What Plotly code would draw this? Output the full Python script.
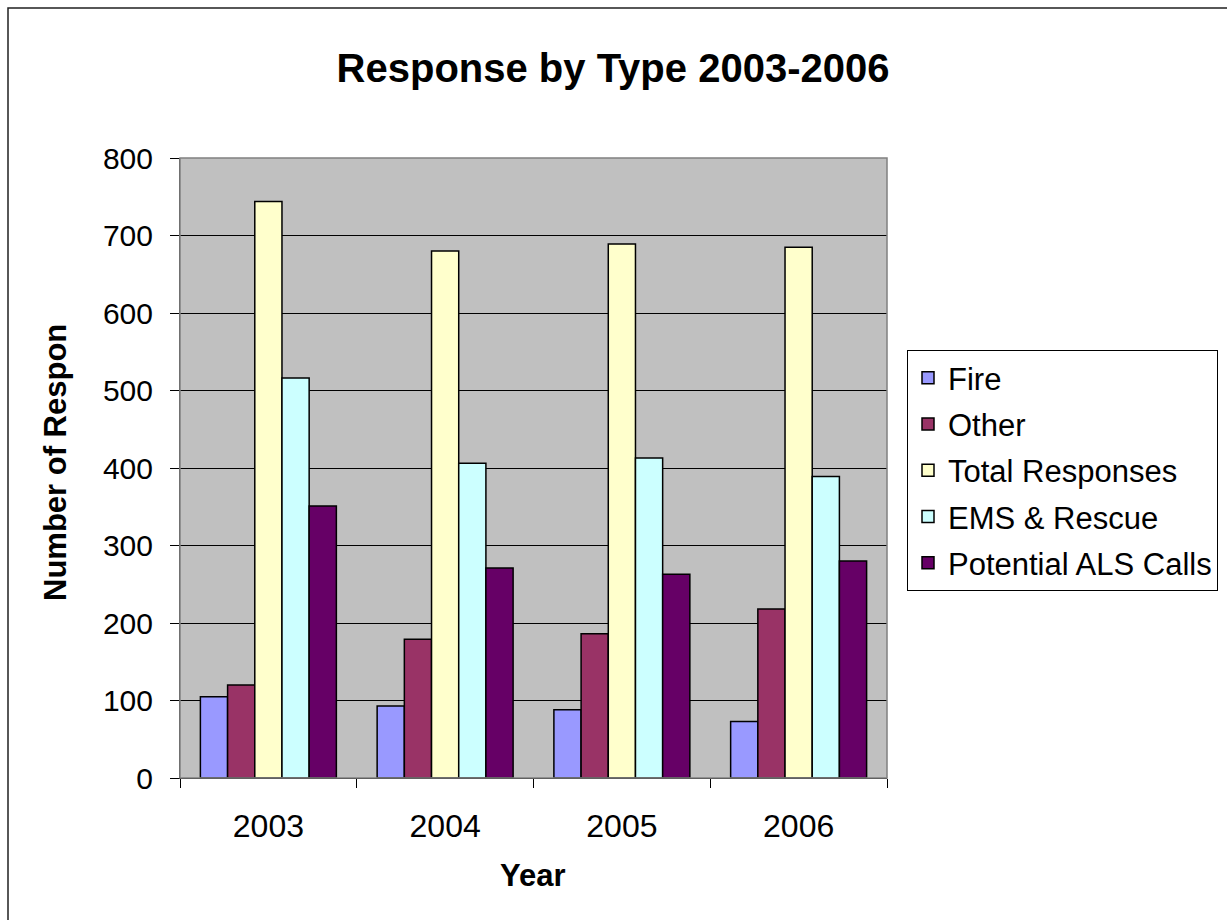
import plotly.graph_objects as go

years = ["2003", "2004", "2005", "2006"]
series_names = ["Fire", "Other", "Total Responses", "EMS & Rescue", "Potential ALS Calls"]
fire = [105, 93, 88, 73]
other = [120, 179, 186, 218]
total = [744, 680, 689, 685]
ems = [516, 406, 413, 389]
als = [351, 271, 263, 280]
colors = ["#9999FF", "#993366", "#FFFFCC", "#CCFFFF", "#660066"]
y_ticks = [0, 100, 200, 300, 400, 500, 600, 700, 800]

W, H = 1227, 920
L, R, T, B = 180, 887, 158, 778  # plot area pixels


def px(x):
    return (x - L) / (R - L)


def py(y):
    return (B - y) / (B - T)


FONT = "Liberation Sans, Arial, sans-serif"

fig = go.Figure()
for i, (name, vals) in enumerate(zip(series_names, [fire, other, total, ems, als])):
    fig.add_trace(go.Bar(
        x=years, y=vals, name=name, legendgroup=f"g{i}",
        marker=dict(color=colors[i], line=dict(color="black", width=1.5)),
    ))

fig.update_layout(
    width=W, height=H,
    margin=dict(l=L, r=W - R, t=T, b=H - B, autoexpand=False),
    paper_bgcolor="white", plot_bgcolor="#C0C0C0",
    barmode="group", bargap=1.5 / 6.5, bargroupgap=0,
    font=dict(family=FONT, size=30, color="black"),
    title=dict(text="<b>Response by Type 2003-2006</b>", x=613 / W, xref="container",
               xanchor="center", y=1 - 68 / H, yref="container", yanchor="middle",
               font=dict(family=FONT, size=40, color="black")),
    legend=dict(x=px(907), y=py(350), xanchor="left", yanchor="top",
                bordercolor="black", borderwidth=1, bgcolor="white",
                traceorder="grouped", tracegroupgap=3,
                font=dict(family=FONT, size=31, color="black")),
    showlegend=True,
)

fig.update_xaxes(
    type="category", showgrid=False, showline=True, linecolor="black", linewidth=1,
    ticks="outside", tickson="boundaries", ticklen=9, tickcolor="black",
    tickfont=dict(family=FONT, size=32, color="black"), ticklabelstandoff=20,
)
fig.update_yaxes(
    range=[0, 800], tickvals=y_ticks, showgrid=True, gridcolor="black", gridwidth=1,
    showline=True, linecolor="#404040", linewidth=1, zeroline=False,
    ticks="outside", ticklen=9, tickcolor="black",
    tickfont=dict(family=FONT, size=30, color="black"), ticklabelstandoff=11,
)

# plot area border (gray)
fig.add_shape(type="rect", xref="paper", yref="paper", x0=0, y0=0, x1=1, y1=1,
              line=dict(color="#808080", width=1.5), layer="above")
# outer chart border
fig.add_shape(type="rect", xref="paper", yref="paper",
              x0=px(8), y0=py(935), x1=px(1240), y1=py(8),
              line=dict(color="#202020", width=1.5), layer="above")

fig.add_annotation(text="<b>Number of Respon</b>", xref="paper", yref="paper",
                   x=px(55), y=py(463), xanchor="center", yanchor="middle",
                   textangle=-90, showarrow=False,
                   font=dict(family=FONT, size=31, color="black"))
fig.add_annotation(text="<b>Year</b>", xref="paper", yref="paper",
                   x=px(533), y=py(876), xanchor="center", yanchor="middle",
                   showarrow=False, font=dict(family=FONT, size=31, color="black"))

fig.write_html("out.html")
